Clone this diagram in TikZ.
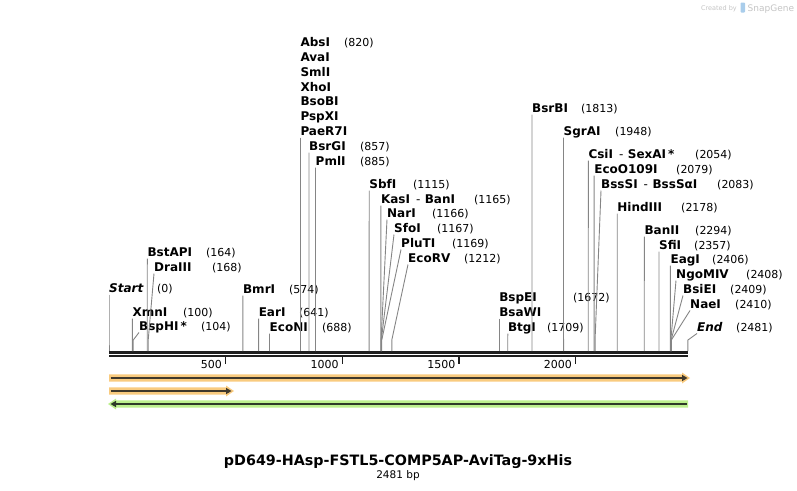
\documentclass[tikz,border=0pt]{standalone}
\usepackage{fontspec}
\setmainfont{DejaVu Sans}
\definecolor{leadgray}{HTML}{858585}
\definecolor{rulerblk}{HTML}{1E1E1E}
\definecolor{orghalo}{HTML}{F9CB7F}
\definecolor{grnhalo}{HTML}{BDF08E}
\definecolor{featdark}{HTML}{40392C}
\definecolor{grndark}{HTML}{2E3A28}
\definecolor{sgray}{HTML}{C4C4C4}
\definecolor{sblue}{HTML}{A9CDEB}
\tikzset{
  enz/.style={anchor=base west, inner sep=0pt, font=\fontsize{12}{14}\selectfont\bfseries},
  enzit/.style={anchor=base west, inner sep=0pt, font=\fontsize{12}{14}\selectfont\bfseries\itshape},
  num/.style={anchor=base west, inner sep=0pt, font=\fontsize{11}{13}\selectfont},
  lead/.style={draw=leadgray, line width=0.9pt},
  tick/.style={draw=rulerblk, line width=1.6pt},
  ticklab/.style={anchor=base east, inner sep=0pt, font=\fontsize{11}{13}\selectfont},
}
\newcommand\dash[2]{#1\hspace{6pt}{\normalfont\mdseries -}\hspace{4.5pt}#2}
% id, label x, baseline, bp, text, number x, number
\newcommand\enzsite[8][enz]{%
  \node[#1] (#2) at (#3,#4) {#6};
  \node[num] (#2n) at (#7,#4) {#8};
  \coordinate (#2c) at ({109+#5*0.23333},340);
  \coordinate (#2r) at ({109+#5*0.23333},351);
  \draw[lead] ([yshift=-2.5pt]#2.base west) -- (#2c) -- (#2r);
}
\begin{document}
\begin{tikzpicture}[x=1pt,y=-1pt]
\useasboundingbox (0,0) rectangle (797,490);

% created by
\node[anchor=base east, inner sep=0pt, text=sgray, font=\fontsize{6.5}{8}\selectfont] (cb) at (737,10) {Created by};
\fill[sblue, rounded corners=0.8pt] (740.5,2.5) rectangle (745,12.5);
\node[anchor=base west, inner sep=0pt, text=sgray, font=\fontsize{9}{10}\selectfont] (sg) at (747.5,11) {SnapGene};

% ruler
\coordinate (r0) at (109,352);
\coordinate (r1) at (688,352);
\draw[rulerblk, line width=3pt] (r0) -- (r1);
\draw[rulerblk, line width=2pt] ([yshift=-4pt]r0) -- ([yshift=-4pt]r1);
\foreach \v/\lab in {500/500,1000/1000,1500/1500,2000/2000}{
  \coordinate (t\v) at ({109+\v*0.23333},357);
  \draw[tick] (t\v) -- ++(0,7);
  \node[ticklab] (tl\v) at ([xshift=-3.5pt,yshift=-11pt]t\v) {\lab};
}

% feature arrows
\coordinate (f1a) at (109,378); \coordinate (f1b) at (690,378);
\fill[orghalo] (109,374.3) -- (682,374.3) -- (682,372.5) -- (f1b) -- (682,383.5) -- (682,381.7) -- (109,381.7) -- cycle;
\draw[featdark, line width=1.8pt] (110.5,378) -- (683,378);
\fill[featdark] (682,374.8) -- (687.5,378) -- (682,381.2) -- cycle;

\coordinate (f2a) at (109,391); \coordinate (f2b) at (234,391);
\fill[orghalo] (109,387.3) -- (226,387.3) -- (226,385.5) -- (f2b) -- (226,396.5) -- (226,394.7) -- (109,394.7) -- cycle;
\draw[featdark, line width=1.8pt] (110.5,391) -- (227,391);
\fill[featdark] (226,387.8) -- (231.5,391) -- (226,394.2) -- cycle;

\coordinate (f3a) at (108,404); \coordinate (f3b) at (688,404);
\fill[grnhalo] (f3b) ++(0,-3.7) -- (116,400.3) -- (116,398.5) -- (f3a) -- (116,409.5) -- (116,407.7) -- (688,407.7) -- cycle;
\draw[grndark, line width=1.8pt] (686.5,404) -- (115,404);
\fill[grndark] (116,400.8) -- (110.5,404) -- (116,407.2) -- cycle;

% enzyme sites
\enzsite[enzit]{start}{109}{292}{0}{Start}{157}{(0)}
\enzsite{xmn}{132.3}{316}{100}{XmnI}{183}{(100)}
\enzsite{bsphi}{139}{330}{104}{BspHI\,*}{201}{(104)}
\enzsite{bstapi}{147.3}{256}{164}{BstAPI}{206}{(164)}
\enzsite{dra}{154}{271}{168}{DraIII}{212}{(168)}
\enzsite{bmr}{242.9}{293}{574}{BmrI}{289}{(574)}
\enzsite{ear}{258.6}{316}{641}{EarI}{299}{(641)}
\enzsite{econi}{269.5}{331}{688}{EcoNI}{322}{(688)}

\node[enz] (abs) at (300.3,46) {AbsI};
\node[num] (absn) at (344,46) {(820)};
\node[enz] (ava) at (300.3,61) {AvaI};
\node[enz] (sml) at (300.3,76) {SmlI};
\node[enz] (xho) at (300.3,91) {XhoI};
\node[enz] (bsobi) at (300.3,105) {BsoBI};
\node[enz] (pspxi) at (300.3,120) {PspXI};
\node[enz] (paer) at (300.3,135) {PaeR7I};
\coordinate (paerr) at (300.3,351);
\draw[lead] ([yshift=-2.5pt]paer.base west) -- (paerr);

\enzsite{bsrgi}{309}{150}{857}{BsrGI}{360}{(857)}
\enzsite{pml}{315.5}{165}{885}{PmlI}{360}{(885)}
\enzsite{sbf}{369.2}{188}{1115}{SbfI}{413}{(1115)}
\enzsite{kas}{380.8}{203}{1165}{\dash{KasI}{BanI}}{474}{(1165)}
\enzsite{nar}{387}{217}{1166}{NarI}{432}{(1166)}
\enzsite{sfo}{394}{232}{1167}{SfoI}{437}{(1167)}
\enzsite{plu}{401}{247}{1169}{PluTI}{452}{(1169)}
\enzsite{ecorv}{408}{262}{1212}{EcoRV}{464}{(1212)}

\node[enz] (bspei) at (499.1,301) {BspEI};
\node[num] (bspein) at (573,301) {(1672)};
\node[enz] (bsawi) at (499.1,316) {BsaWI};
\coordinate (bsawir) at (499.1,351);
\draw[lead] ([yshift=-2.5pt]bsawi.base west) -- (bsawir);

\enzsite{btg}{507.8}{331}{1709}{BtgI}{547}{(1709)}
\enzsite{bsrbi}{532}{112}{1813}{BsrBI}{581}{(1813)}
\enzsite{sgr}{563.5}{135}{1948}{SgrAI}{615}{(1948)}
\enzsite{csi}{588.3}{158}{2054}{\dash{CsiI}{SexAI\,*}}{695}{(2054)}
\enzsite{eco109}{594.1}{173}{2079}{EcoO109I}{676}{(2079)}
\enzsite{bsssi}{601}{188}{2083}{\dash{BssSI}{BssSαI}}{717}{(2083)}
\enzsite{hind}{617.2}{211}{2178}{HindIII}{681}{(2178)}
\enzsite{ban}{644.3}{234}{2294}{BanII}{695}{(2294)}
\enzsite{sfi}{659}{249}{2357}{SfiI}{694}{(2357)}
\enzsite{eag}{670.4}{263}{2406}{EagI}{712}{(2406)}
\enzsite{ngo}{676}{278}{2408}{NgoMIV}{746}{(2408)}
\enzsite{bsiei}{683}{293}{2409}{BsiEI}{730}{(2409)}
\enzsite{nae}{690}{308}{2410}{NaeI}{735}{(2410)}
\enzsite[enzit]{end}{697}{331}{2481}{End}{736}{(2481)}

% title
\node[inner sep=0pt, anchor=base, font=\fontsize{14.3}{17}\selectfont\bfseries] (title) at (398,465) {pD649-HAsp-FSTL5-COMP5AP-AviTag-9xHis};
\node[inner sep=0pt, anchor=base, font=\fontsize{10.5}{12}\selectfont] (bp) at (398,478) {2481 bp};
\end{tikzpicture}
\end{document}
